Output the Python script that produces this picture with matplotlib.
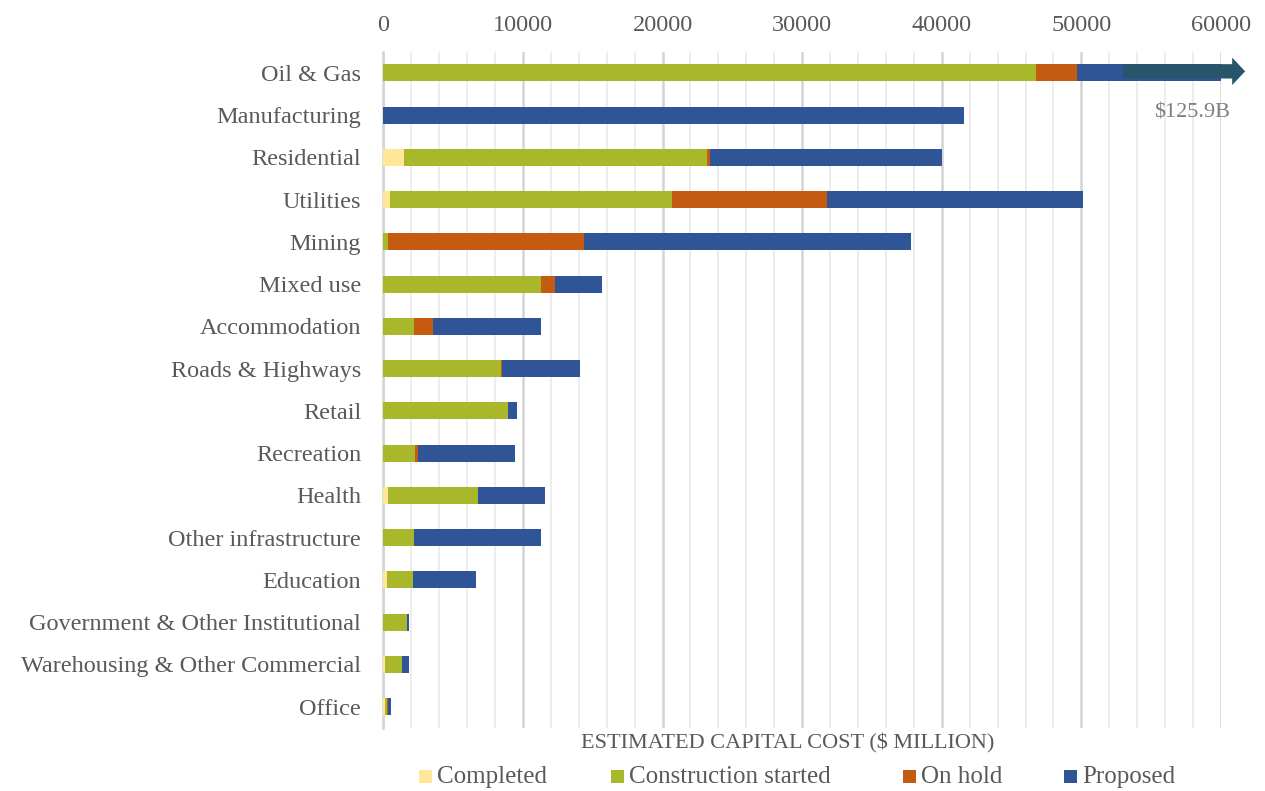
import numpy as np
import matplotlib
matplotlib.use("Agg")
import matplotlib.pyplot as plt
from matplotlib.patches import FancyArrow, Rectangle

plt.rcParams['font.family'] = ['Liberation Serif', 'DejaVu Serif']

# ---- data ($ million) ----
categories = [
    "Oil & Gas", "Manufacturing", "Residential", "Utilities", "Mining",
    "Mixed use", "Accommodation", "Roads & Highways", "Retail", "Recreation",
    "Health", "Other infrastructure", "Education",
    "Government & Other Institutional", "Warehousing & Other Commercial", "Office",
]
series_names = ["Completed", "Construction started", "On hold", "Proposed"]

completed = [0, 0, 1500, 480, 0, 0, 0, 0, 0, 0, 315, 0, 240, 0, 150, 150]
construction_started = [46730, 0, 21650, 20200, 360, 11270, 2180, 8450, 8950,
                        2275, 6460, 2225, 1915, 1720, 1190, 100]
on_hold = [2960, 0, 240, 11100, 14000, 1000, 1410, 70, 0, 195, 0, 0, 0, 0, 0, 100]
proposed = [None, 41600, 16630, 18300, 23440, 3400, 7680, 5600, 625, 6960,
            4835, 9045, 4475, 100, 505, 230]

# Oil & Gas total runs off the scale; its proposed share is the remainder
oil_gas_total = 125900
oil_gas_label = "$125.9B"
proposed[0] = oil_gas_total - completed[0] - construction_started[0] - on_hold[0]

x_max = 60000
x_major = list(range(0, 60001, 10000))
x_minor_step = 2000

colors = ["#FFE699", "#A9B82A", "#C55A11", "#2F5597"]
arrow_color = "#27566B"
text_grey = "#595959"

# ---- figure layout ----
W, H = 1265, 791
fig = plt.figure(figsize=(W / 100, H / 100), dpi=100)
ax_left, ax_right, ax_top, ax_bottom = 383.3, 1221.0, 51.7, 727.7
ax = fig.add_axes([ax_left / W, 1 - ax_bottom / H,
                   (ax_right - ax_left) / W, (ax_bottom - ax_top) / H])

y = np.arange(len(categories))
left = np.zeros(len(categories))
for name, vals, col in zip(series_names,
                           [completed, construction_started, on_hold, proposed],
                           colors):
    vals = np.array(vals, dtype=float)
    ax.barh(y, vals, left=left, height=0.40, color=col, label=name,
            zorder=3, linewidth=0)
    left += vals

ax.set_xlim(0, x_max)
ax.set_ylim(len(categories) - 0.5, -0.5)

# axis styling
ax.xaxis.tick_top()
ax.set_xticks(x_major)
ax.set_xticks(np.arange(0, x_max + 1, x_minor_step), minor=True)
ax.set_yticks(y)
ax.set_yticklabels(categories)
ax.tick_params(axis='x', which='both', length=0, pad=11, labelsize=17.5,
               labelcolor=text_grey)
ax.tick_params(axis='y', which='both', length=0, pad=16, labelsize=17.5,
               labelcolor=text_grey)
ax.grid(axis='x', which='major', color='#D4D4D4', linewidth=1.8, zorder=0)
ax.grid(axis='x', which='minor', color='#EDEDED', linewidth=1.4, zorder=0)
for side in ['top', 'right', 'bottom']:
    ax.spines[side].set_visible(False)
ax.spines['left'].set_color('#D4D4D4')
ax.spines['left'].set_linewidth(1.8)

# overflow arrow on the Oil & Gas bar
arrow_start = 53000
arrow_tip = 61730
ax.add_patch(FancyArrow(arrow_start, -0.035, arrow_tip - arrow_start, 0,
                        width=0.34, head_width=0.65, head_length=930,
                        length_includes_head=True, color=arrow_color,
                        linewidth=0, zorder=4, clip_on=False))
ax.text(57930, 0.95, oil_gas_label, ha='center', va='center',
        fontsize=16, color='#7F7F7F', zorder=5)

# axis title
fig.text(788 / W, 1 - 748 / H, "ESTIMATED CAPITAL COST ($ MILLION)",
         ha='center', va='baseline', fontsize=16, color=text_grey)

# legend row
legend_x = [419, 611, 903, 1064]
legend_base = 783
sq = 13
for name, col, lx in zip(series_names, colors, legend_x):
    fig.add_artist(Rectangle((lx / W, 1 - legend_base / H),
                             sq / W, sq / H, transform=fig.transFigure,
                             facecolor=col, edgecolor='none'))
    fig.text((lx + sq + 5) / W, 1 - legend_base / H, name, ha='left',
             va='baseline', fontsize=18, color=text_grey)

fig.savefig("out.png", dpi=100)
